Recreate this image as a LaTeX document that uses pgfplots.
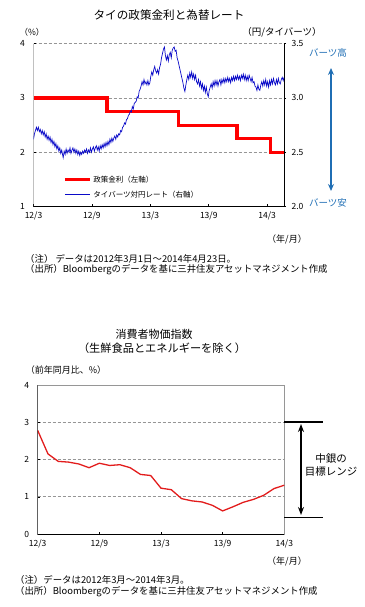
\documentclass[border=0pt]{standalone}
\usepackage{pgfplots}
\pgfplotsset{compat=1.18}
\usepackage{fontspec}
\setmainfont{Noto Sans CJK JP}
\usetikzlibrary{arrows.meta}
\definecolor{rred}{RGB}{255,0,0}
\definecolor{bblue}{RGB}{10,10,200}
\definecolor{arrowblue}{RGB}{31,110,180}
\definecolor{cpired}{RGB}{226,28,28}
\definecolor{gridgray}{RGB}{150,150,150}
\newcommand{\fs}[1]{\fontsize{#1}{#1}\selectfont}
\begin{document}
\begin{tikzpicture}
\useasboundingbox (0,0) rectangle (364pt,-607pt);
% ---------------- top chart ----------------
\begin{axis}[
 at={(33.5pt,-206.5pt)}, anchor=south west,
 width=250.5pt, height=162.8pt, scale only axis,
 xmin=0, xmax=25.73, ymin=1, ymax=4,
 xtick={0,6,12,18,24}, xticklabels={12/3,12/9,13/3,13/9,14/3},
 ytick={1,2,3,4},
 axis line style={draw=none},
 tick pos=left, tick align=inside, major tick length=2.5pt,
 tick style={black, line width=0.5pt},
 ymajorgrids, grid style={densely dashed, gridgray, line width=0.6pt},
 ticklabel style={font=\fs{8.5}},
 /pgf/number format/assume math mode=true,
 yticklabel style={xshift=-5pt},
 xticklabel style={yshift=-2pt},
 legend style={at={(0.118,0.035)}, anchor=south west, draw=none, fill=none,
   font=\fs{7.5}, row sep=3pt, inner sep=0pt},
 legend cell align=left,
 legend image code/.code={\draw[#1] (0pt,0pt) -- (25pt,0pt);},
]
\addplot[rred, line width=3.2pt, const plot] coordinates {
(0,3.00) (7.55,2.75) (14.93,2.50) (20.9,2.25) (24.37,2.00) (25.73,2.00)};
\addlegendentry{政策金利（左軸）}
\addlegendimage{bblue, line width=0.8pt}
\addlegendentry{タイバーツ対円レート（右軸）}
\draw[gray!60!black, line width=0.8pt] (rel axis cs:0,1) -- (rel axis cs:0,0);
\draw[black, line width=0.8pt] (rel axis cs:0,0) -- (rel axis cs:1,0);
\end{axis}
\begin{axis}[
 at={(33.5pt,-206.5pt)}, anchor=south west,
 width=250.5pt, height=162.8pt, scale only axis,
 xmin=0, xmax=25.73, ymin=2, ymax=3.5,
 axis x line=none, axis y line*=right,
 axis line style={black, line width=0.8pt},
 ytick={2,2.5,3,3.5}, yticklabels={2.0,2.5,3.0,3.5},
 tick align=outside, major tick length=2pt, tick style={black, line width=0.5pt},
 ticklabel style={font=\fs{8.5}},
 yticklabel style={xshift=2pt},
]
\addplot[bblue, line width=0.7pt] table {
0.00 2.62
0.10 2.67
0.20 2.70
0.30 2.73
0.40 2.70
0.50 2.73
0.60 2.69
0.70 2.71
0.80 2.67
0.90 2.70
1.00 2.66
1.10 2.69
1.20 2.64
1.30 2.67
1.40 2.62
1.50 2.65
1.60 2.61
1.70 2.64
1.80 2.59
1.90 2.62
2.00 2.57
2.10 2.60
2.20 2.55
2.30 2.58
2.40 2.53
2.50 2.56
2.60 2.51
2.70 2.54
2.80 2.49
2.90 2.52
3.00 2.47
3.05 2.45
3.15 2.51
3.25 2.48
3.35 2.53
3.45 2.49
3.55 2.52
3.65 2.50
3.75 2.54
3.85 2.49
3.95 2.52
4.05 2.54
4.15 2.50
4.25 2.53
4.35 2.49
4.45 2.52
4.55 2.48
4.65 2.51
4.75 2.47
4.85 2.50
4.95 2.48
5.05 2.51
5.15 2.49
5.25 2.52
5.35 2.50
5.45 2.53
5.55 2.49
5.65 2.52
5.75 2.50
5.85 2.54
5.95 2.50
6.05 2.53
6.15 2.55
6.25 2.51
6.35 2.54
6.45 2.56
6.55 2.52
6.65 2.55
6.75 2.51
6.85 2.56
6.95 2.53
7.05 2.57
7.15 2.54
7.25 2.58
7.35 2.55
7.45 2.59
7.55 2.56
7.65 2.60
7.75 2.57
7.85 2.62
7.95 2.59
8.05 2.63
8.15 2.60
8.25 2.63
8.35 2.65
8.45 2.62
8.55 2.66
8.65 2.64
8.75 2.67
8.85 2.66
8.95 2.70
9.05 2.69
9.15 2.73
9.25 2.74
9.35 2.77
9.45 2.76
9.55 2.80
9.65 2.81
9.75 2.84
9.85 2.85
9.95 2.88
10.05 2.87
10.15 2.92
10.25 2.90
10.35 2.95
10.45 2.96
10.55 2.97
10.65 3.01
10.75 3.00
10.85 3.06
10.95 3.08
11.05 3.11
11.15 3.15
11.25 3.12
11.35 3.17
11.45 3.13
11.55 3.15
11.65 3.12
11.75 3.16
11.85 3.12
11.95 3.14
12.05 3.20
12.15 3.24
12.25 3.21
12.35 3.26
12.45 3.29
12.55 3.25
12.65 3.23
12.75 3.26
12.85 3.22
12.95 3.28
13.05 3.31
13.15 3.37
13.25 3.41
13.35 3.45
13.45 3.47
13.55 3.39
13.65 3.35
13.75 3.39
13.85 3.34
13.95 3.40
14.05 3.42
14.15 3.37
14.25 3.44
14.35 3.46
14.45 3.47
14.55 3.43
14.65 3.44
14.75 3.37
14.85 3.34
14.95 3.30
15.05 3.26
15.15 3.22
15.25 3.18
15.35 3.14
15.45 3.09
15.55 3.06
15.65 3.12
15.75 3.17
15.85 3.21
15.95 3.17
16.05 3.23
16.15 3.19
16.25 3.24
16.35 3.18
16.45 3.22
16.55 3.17
16.65 3.21
16.75 3.15
16.85 3.13
16.95 3.17
17.05 3.11
17.15 3.15
17.25 3.09
17.35 3.13
17.45 3.07
17.55 3.11
17.65 3.05
17.75 3.10
17.85 3.04
17.95 3.01
18.05 3.07
18.15 3.10
18.25 3.13
18.35 3.09
18.45 3.15
18.55 3.11
18.65 3.16
18.75 3.12
18.85 3.16
18.95 3.11
19.05 3.15
19.15 3.17
19.25 3.12
19.35 3.17
19.45 3.14
19.55 3.18
19.65 3.14
19.75 3.18
19.85 3.15
19.95 3.19
20.05 3.15
20.15 3.18
20.25 3.14
20.35 3.19
20.45 3.16
20.55 3.20
20.65 3.16
20.75 3.20
20.85 3.17
20.95 3.21
21.05 3.17
21.15 3.20
21.25 3.16
21.35 3.21
21.45 3.18
21.55 3.22
21.65 3.17
21.75 3.21
21.85 3.16
21.95 3.20
22.05 3.16
22.15 3.21
22.25 3.18
22.35 3.15
22.45 3.19
22.55 3.14
22.65 3.15
22.75 3.11
22.85 3.10
22.95 3.07
23.05 3.12
23.15 3.08
23.25 3.07
23.35 3.12
23.45 3.15
23.55 3.11
23.65 3.16
23.75 3.12
23.85 3.17
23.95 3.11
24.05 3.15
24.15 3.10
24.25 3.16
24.35 3.12
24.45 3.17
24.55 3.13
24.65 3.18
24.75 3.14
24.85 3.12
24.95 3.17
25.05 3.13
25.15 3.18
25.25 3.14
25.35 3.13
25.45 3.17
25.55 3.19
25.65 3.16
25.73 3.19
};
\end{axis}
% top annotations
\node[font=\fs{11.6}] at (169pt,-14.7pt) {タイの政策金利と為替レート};
\node[font=\fs{8.5}] at (32pt,-32.5pt) {（\%）};
\node[font=\fs{9.5}] at (282pt,-32.5pt) {（円/タイバーツ）};
\node[font=\fs{9.5}, text=arrowblue] at (328pt,-53pt) {バーツ高};
\node[font=\fs{9.5}, text=arrowblue] at (328pt,-203pt) {バーツ安};
\draw[arrowblue, line width=1.6pt, {Stealth[length=7pt,width=6pt]}-{Stealth[length=7pt,width=6pt]}] (331pt,-68pt) -- (331pt,-191pt);
\node[font=\fs{9}] at (287pt,-239pt) {（年/月）};
\node[font=\fs{9.4}, anchor=west, inner sep=0pt] at (25pt,-259pt) {（注） データは2012年3月1日～2014年4月23日。};
\node[font=\fs{9.4}, anchor=west, inner sep=0pt] at (25pt,-269.5pt) {（出所）Bloombergのデータを基に三井住友アセットマネジメント作成};
% ---------------- bottom chart ----------------
\begin{axis}[
 at={(37.7pt,-534pt)}, anchor=south west,
 width=246.6pt, height=149pt, scale only axis,
 xmin=0, xmax=24, ymin=0, ymax=4,
 xtick={0,6,12,18,24}, xticklabels={12/3,12/9,13/3,13/9,14/3},
 ytick={0,1,2,3,4},
 axis line style={gridgray, line width=0.6pt},
 tick pos=left, tick align=inside, major tick length=2.5pt,
 tick style={black, line width=0.5pt},
 ymajorgrids, grid style={densely dashed, gridgray, line width=0.6pt},
 ticklabel style={font=\fs{8.5}},
 /pgf/number format/assume math mode=true,
 yticklabel style={xshift=-5pt},
 xticklabel style={yshift=-2pt},
]
\addplot[cpired, line width=1.3pt] coordinates {
(0,2.78) (1,2.15) (2,1.95) (3,1.93) (4,1.88) (5,1.78) (6,1.90) (7,1.84)
(8,1.86) (9,1.78) (10,1.60) (11,1.57) (12,1.23) (13,1.19) (14,0.95)
(15,0.89) (16,0.86) (17,0.77) (18,0.62) (19,0.73) (20,0.85) (21,0.93)
(22,1.04) (23,1.22) (24,1.31)};
\draw[black, line width=0.9pt] (rel axis cs:0,1) -- (rel axis cs:0,0) -- (rel axis cs:1,0);
\end{axis}
% bottom annotations
\node[font=\fs{11}] at (154pt,-334pt) {消費者物価指数};
\node[font=\fs{11.2}] at (162pt,-348pt) {（生鮮食品とエネルギーを除く）};
\node[font=\fs{9}] at (66pt,-370pt) {（前年同月比、\%）};
\draw[black, line width=1.6pt] (284pt,-421.7pt) -- (323pt,-421.7pt);
\draw[black, line width=1.6pt] (284pt,-517.5pt) -- (323pt,-517.5pt);
\draw[black, line width=2.2pt, {Stealth[length=8pt,width=6pt]}-{Stealth[length=8pt,width=6pt]}] (301pt,-424pt) -- (301pt,-515pt);
\node[font=\fs{10.5}] at (331pt,-459pt) {中銀の};
\node[font=\fs{10.5}] at (331pt,-472pt) {目標レンジ};
\node[font=\fs{9}] at (287pt,-561.7pt) {（年/月）};
\node[font=\fs{9.4}, anchor=west, inner sep=0pt] at (15pt,-580pt) {（注）データは2012年3月～2014年3月。};
\node[font=\fs{9.4}, anchor=west, inner sep=0pt] at (15pt,-592pt) {（出所）Bloombergのデータを基に三井住友アセットマネジメント作成};
\end{tikzpicture}
\end{document}
